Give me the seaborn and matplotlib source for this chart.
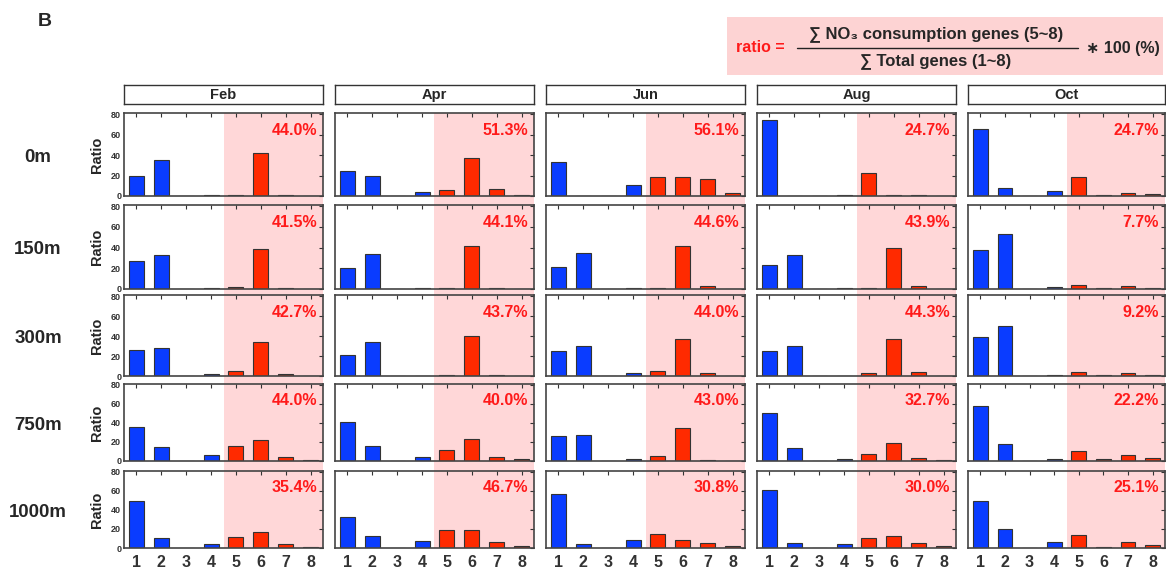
import pandas as pd
import numpy as np
import matplotlib.pyplot as plt
import seaborn as sns
from matplotlib.patches import Rectangle
from matplotlib.lines import Line2D

# ---- data (ratio of each gene, %) ----
months = ['Feb', 'Apr', 'Jun', 'Aug', 'Oct']
depths = ['0m', '150m', '300m', '750m', '1000m']
genes = ['1', '2', '3', '4', '5', '6', '7', '8']

feb = [
    [20, 35, 0, 0.5, 1, 41.5, 0.5, 0],
    [27, 32.4, 0, 0.8, 1.5, 39, 1.2, 0.2],
    [25.9, 27.6, 0, 2.1, 4.9, 34.3, 1.7, 0.3],
    [36, 14.7, 0, 6.4, 16.2, 21.8, 4.1, 1.5],
    [49.3, 10.9, 0, 4.7, 11.6, 16.7, 4.7, 1.5],
]
apr = [
    [24, 19.6, 0, 4.2, 5.8, 36.7, 6.8, 1],
    [20, 34, 0, 0.5, 0.5, 41, 1, 0.2],
    [21.4, 34, 0, 0.5, 1.2, 40, 1, 0.2],
    [40.9, 15.8, 0, 4.3, 11.1, 23, 4.3, 1.8],
    [32.7, 12.1, 0, 7.5, 18.5, 18.5, 6.4, 2.1],
]
jun = [
    [32.8, 0.3, 0, 10.6, 18.3, 18.6, 17, 3.2],
    [21, 34.5, 0, 0.5, 0.5, 41.5, 2.5, 0],
    [24.6, 30, 0, 3.5, 5.2, 37, 3.5, 0.3],
    [25.8, 27.6, 0, 2.5, 5.7, 34.4, 1.2, 0.3],
    [56.9, 4.3, 0, 8.5, 14.6, 8.2, 5.7, 2.5],
]
aug = [
    [74, 0, 0, 1, 22.2, 1, 0.8, 0.3],
    [22.8, 32.5, 0, 0.5, 1, 39.5, 3, 0.3],
    [25.1, 29.7, 0, 0.5, 3.2, 37.3, 3.6, 0.5],
    [50.9, 13.3, 0, 2.2, 7.2, 19.4, 3.6, 1.2],
    [61.5, 5.3, 0, 3.9, 10, 12.1, 5.7, 2.5],
]
oct_ = [
    [65, 7.7, 0, 4.5, 18.6, 0.5, 3, 2],
    [38, 52.7, 0, 1.5, 3.5, 0.5, 3, 0.5],
    [39.4, 50.5, 0, 1.2, 4.5, 0.8, 3, 0.8],
    [57.7, 17.6, 0, 2.2, 10.5, 1.8, 6.5, 2.8],
    [49, 20.3, 0, 6, 14.2, 1.5, 6.4, 2.8],
]
month_data = [feb, apr, jun, aug, oct_]

pct_labels = [
    ['44.0%', '41.5%', '42.7%', '44.0%', '35.4%'],
    ['51.3%', '44.1%', '43.7%', '40.0%', '46.7%'],
    ['56.1%', '44.6%', '44.0%', '43.0%', '30.8%'],
    ['24.7%', '43.9%', '44.3%', '32.7%', '30.0%'],
    ['24.7%', '7.7%', '9.2%', '22.2%', '25.1%'],
]

# ---- style ----
sns.set_style("white")
plt.rcParams['font.family'] = ['Liberation Sans', 'DejaVu Sans']
plt.rcParams['font.weight'] = 'bold'

BLUE = '#0a3cff'
RED = '#ff2a00'
PINK = '#ffd7d8'
bar_colors = [BLUE] * 4 + [RED] * 4

W, H = 1166, 571
fig = plt.figure(figsize=(W / 100, H / 100), dpi=100)

def fx(px):
    return px / W

def fy(py):
    return 1 - py / H

col_left = [124, 335, 546, 757, 968]
col_width = [199, 199, 199, 199, 197]
row_top = [113, 205, 295, 384, 471]
row_bot = [196, 289, 376, 461, 548]

# continuous pink band behind the 5..8 genes in every column
for c in range(5):
    x0 = col_left[c] + col_width[c] * 0.5
    band = Rectangle((fx(x0), fy(row_bot[-1])), fx(col_width[c] * 0.5),
                     (row_bot[-1] - row_top[0]) / H, transform=fig.transFigure,
                     facecolor=PINK, edgecolor='none', zorder=-1)
    fig.add_artist(band)

for c, month in enumerate(months):
    # header box
    hax = fig.add_axes([fx(col_left[c]), fy(104), col_width[c] / W, 19 / H])
    hax.set_xticks([])
    hax.set_yticks([])
    for sp in hax.spines.values():
        sp.set_color('#333333')
        sp.set_linewidth(1.0)
    hax.text(0.5, 0.45, month, ha='center', va='center', fontsize=10.5,
             fontweight='bold', transform=hax.transAxes)

    for r, depth in enumerate(depths):
        ax = fig.add_axes([fx(col_left[c]), fy(row_bot[r]),
                           col_width[c] / W, (row_bot[r] - row_top[r]) / H])
        ax.patch.set_alpha(0)
        df = pd.DataFrame({'gene': genes, 'ratio': month_data[c][r]})
        sns.barplot(data=df, x='gene', y='ratio', hue='gene', palette=bar_colors,
                    saturation=1, width=0.6, edgecolor='#333333', linewidth=0.8,
                    legend=False, ax=ax)
        ax.set_xlim(-0.5, 7.5)
        ax.set_ylim(0, 81)
        ax.set_yticks([0, 20, 40, 60, 80])
        ax.tick_params(direction='in', top=True, right=True, length=3,
                       width=0.8, colors='#333333')
        for sp in ax.spines.values():
            sp.set_color('#444444')
            sp.set_linewidth(1.2)
        ax.set_xlabel('')
        if c == 0:
            ax.set_ylabel('Ratio', fontsize=10.5, fontweight='bold', labelpad=5)
            ax.tick_params(axis='y', labelsize=6.5, pad=2)
            for t in ax.get_yticklabels():
                t.set_fontweight('bold')
            fig.text(fx(38), fy((row_top[r] + row_bot[r]) / 2 + 3), depth,
                     ha='center', va='center', fontsize=13.4, fontweight='bold')
        else:
            ax.set_ylabel('')
            ax.set_yticklabels([])
        if r == len(depths) - 1:
            ax.tick_params(axis='x', labelsize=11.5, pad=5)
            for t in ax.get_xticklabels():
                t.set_fontweight('bold')
        else:
            ax.set_xticklabels([])
        ax.text(0.97, 0.88, pct_labels[c][r], transform=ax.transAxes,
                ha='right', va='top', color='#ff1a1a', fontsize=11.5,
                fontweight='bold')

# panel letter
fig.text(fx(38), fy(22), 'B', ha='left', va='center', fontsize=14,
         fontweight='bold')

# formula box
fig.add_artist(Rectangle((fx(727), fy(75)), fx(1163 - 727), 58 / H,
                         transform=fig.transFigure, facecolor='#fdd3d3',
                         edgecolor='none'))
fig.text(fx(736), fy(47), 'ratio =', ha='left', va='center', color='#ff1a1a',
         fontsize=11.5, fontweight='bold')
fig.text(fx(936), fy(34), '∑ NO₃ consumption genes (5~8)', ha='center',
         va='center', fontsize=12, fontweight='bold')
fig.add_artist(Line2D([fx(797), fx(1078)], [fy(48), fy(48)],
                      transform=fig.transFigure, color='#222222', lw=1.0))
fig.text(fx(936), fy(61), '∑ Total genes (1~8)', ha='center', va='center',
         fontsize=12, fontweight='bold')
fig.text(fx(1086), fy(48), '∗ 100 (%)', ha='left', va='center', fontsize=11.5,
         fontweight='bold')

plt.savefig('out.png', dpi=100)
